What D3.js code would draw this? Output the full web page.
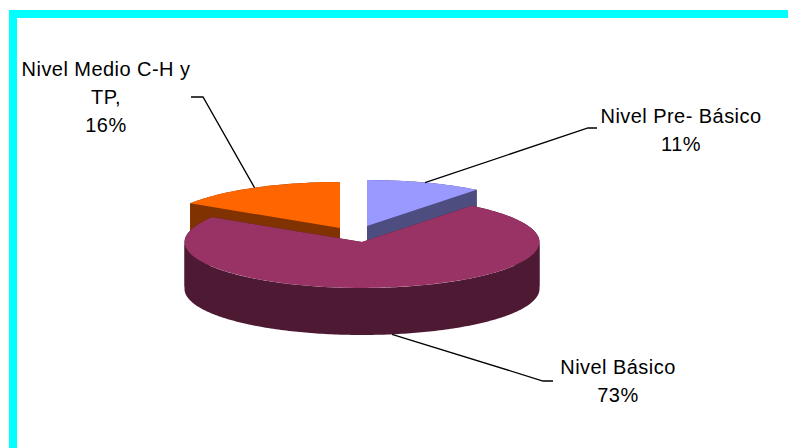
<!DOCTYPE html>
<html>
<head>
<meta charset="utf-8">
<script src="https://cdn.jsdelivr.net/npm/d3@7/dist/d3.min.js"></script>
<style>
html,body{margin:0;padding:0;background:#fff;overflow:hidden}
svg{display:block}
text{font-family:"Liberation Sans",Arial,sans-serif;font-size:20px;letter-spacing:0.45px;fill:#000}
</style>
</head>
<body>
<svg id="chart" width="788" height="448"></svg>
<script>
const categories = ["Nivel Pre- Básico", "Nivel Básico", "Nivel Medio C-H y TP"];
const shares = [10.6, 73.4, 16];
const topColors = ["#9999FF", "#993366", "#FF6600"];
const sideColors = ["#4D4D80", "#4D1933", "#803300"];
const labelLines = [["Nivel Pre- Básico"], ["Nivel Básico"], ["Nivel Medio C-H y", "TP,"]];
const labelX = [681, 618, 106];
const labelY = [123, 374, 76];
const centers = [[367, 226], [362, 242], [340, 228]];
const elbows = [[[588, 128], [597, 128]], [[543, 381], [553, 381]], [[203, 97], [191, 97]]];
const drawOrder = [2, 0, 1];

const RX = 177.5, RY = 46, DEPTH = 47, LINE_H = 28;
const svg = d3.select("#chart");

svg.append("path")
  .attr("d", "M792,14H13V452")
  .attr("fill", "none").attr("stroke", "#00FFFF").attr("stroke-width", 8);

const pieGen = d3.pie().sort(null).startAngle(0).endAngle(2 * Math.PI);
const slices = pieGen(shares);
const arcGen = d3.arc().innerRadius(0).outerRadius(RX);
const py = RY / RX;
const line = d3.line();

drawOrder.forEach(i => {
  const s = slices[i];
  const [cx, cy] = centers[i];
  const edge = a => [cx + RX * Math.sin(a), cy - RY * Math.cos(a)];
  const drop = p => [p[0], p[1] + DEPTH];
  const breaks = [s.startAngle,
    ...[Math.PI / 2, 3 * Math.PI / 2].filter(a => a > s.startAngle && a < s.endAngle),
    s.endAngle];
  const walls = d3.pairs(breaks).map(([a0, a1]) => {
    const n = Math.ceil((a1 - a0) * 60);
    const rim = d3.range(n + 1).map(k => edge(a0 + (a1 - a0) * k / n));
    return [...rim, ...rim.slice().reverse().map(drop)];
  });
  const faces = [s.startAngle, s.endAngle].map(a =>
    [[cx, cy], edge(a), drop(edge(a)), drop([cx, cy])]);
  const g = svg.append("g");
  g.selectAll("path.side").data([...faces, ...walls]).join("path")
    .attr("class", "side")
    .attr("d", d => line(d) + "Z")
    .attr("fill", sideColors[i]);
  g.append("path")
    .attr("transform", `translate(${cx},${cy}) scale(1,${py})`)
    .attr("d", arcGen(s))
    .attr("fill", topColors[i]);
});

slices.forEach((s, i) => {
  const mid = (s.startAngle + s.endAngle) / 2;
  const [cx, cy] = centers[i];
  const front = Math.cos(mid) < 0;
  const ax = cx + RX * Math.sin(mid);
  const ay = cy - RY * Math.cos(mid) + (front ? DEPTH : 0);
  svg.append("path")
    .attr("d", line([[ax, ay], ...elbows[i]]))
    .attr("fill", "none").attr("stroke", "#000").attr("stroke-width", 1.3);
  const lines = [...labelLines[i], Math.round(s.value) + "%"];
  const t = svg.append("text").attr("text-anchor", "middle");
  lines.forEach((l, k) => {
    t.append("tspan").attr("x", labelX[i]).attr("y", labelY[i] + k * LINE_H).text(l);
  });
});
</script>
</body>
</html>
